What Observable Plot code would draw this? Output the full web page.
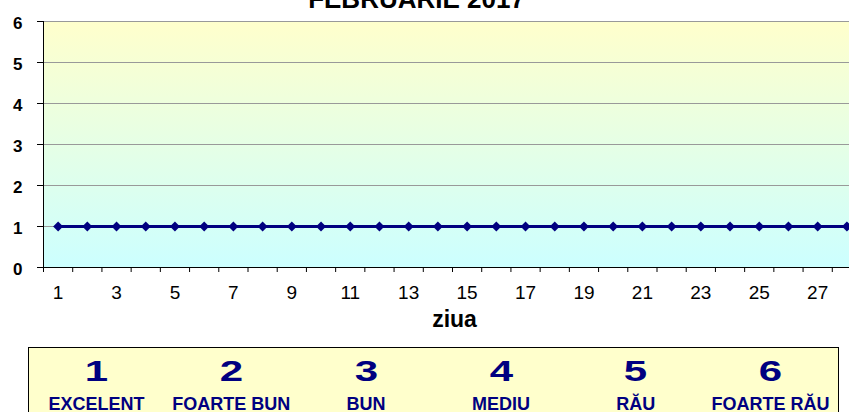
<!DOCTYPE html>
<html><head><meta charset="utf-8">
<script src="https://cdn.jsdelivr.net/npm/d3@7"></script>
<script src="https://cdn.jsdelivr.net/npm/@observablehq/plot@0.6"></script>
<style>
body{margin:0;background:#fff;overflow:hidden;font-family:"Liberation Sans",Arial,sans-serif;position:relative;width:849px;height:412px}
#chart svg{display:block;overflow:visible}
#legend{position:absolute;left:28px;top:347px;width:811px;height:80px;background:#FFFFCC;border:1px solid #000;box-sizing:border-box;display:grid;grid-template-columns:repeat(6,1fr);}
.item{text-align:center;color:#000080;font-weight:bold}
.num{font-size:30px;line-height:30px;margin-top:8px}
.num span{display:inline-block;transform:scaleX(1.4)}
.lab{font-size:18px;line-height:18px;margin-top:9px;white-space:nowrap}
</style></head>
<body><div id="chart"></div><div id="legend"></div>
<script>
const title = "FEBRUARIE 2017";
const xLabel = "ziua";
const days = [1,2,3,4,5,6,7,8,9,10,11,12,13,14,15,16,17,18,19,20,21,22,23,24,25,26,27,28];
const values = [1,1,1,1,1,1,1,1,1,1,1,1,1,1,1,1,1,1,1,1,1,1,1,1,1,1,1,1];
const yTicks = [0,1,2,3,4,5,6];
const xLabelTicks = [1,3,5,7,9,11,13,15,17,19,21,23,25,27];
const levels = [1,2,3,4,5,6];
const levelLabels = ["EXCELENT","FOARTE BUN","BUN","MEDIU","RĂU","FOARTE RĂU"];

const data = days.map((d,i)=>({day:d, v:values[i]}));
const boundaries = [0, ...days].map(d => d + 0.5);
const gridLines = yTicks.filter(t => t > 0);

const defs = () => {
  const d = d3.create("svg:defs");
  const g = d.append("linearGradient").attr("id","bg").attr("x1",0).attr("y1",0).attr("x2",0).attr("y2",1);
  g.append("stop").attr("offset","0%").attr("stop-color","#FFFFCC");
  g.append("stop").attr("offset","100%").attr("stop-color","#CCFFFF");
  return d.node();
};

const chart = Plot.plot({
  width: 849,
  height: 340,
  marginTop: 21,
  marginBottom: 73,
  marginLeft: 43,
  marginRight: 0,
  style: {fontFamily: '"Liberation Sans", Arial, sans-serif', color: "#000", background: "transparent", overflow: "visible"},
  x: {domain: [0.5, days.length + 0.5], range: [43, 861], label: null},
  y: {domain: [0, 6], label: null},
  marks: [
    defs,
    Plot.frame({fill: "url(#bg)", stroke: "none"}),
    Plot.ruleY(gridLines, {stroke: "#999", strokeWidth: 1}),
    Plot.ruleY([0], {stroke: "#000"}),
    Plot.ruleX([0.5], {y1: 0, y2: 6, stroke: "#000"}),
    Plot.axisY({ticks: yTicks, tickSize: 6, tickFormat: () => "", label: null}),
    Plot.axisX({ticks: boundaries, tickSize: 5, tickFormat: () => "", label: null}),
    Plot.text(yTicks, {ariaLabel: "ylab", y: d => d, frameAnchor: "left", textAnchor: "end", lineAnchor: "middle", dx: -21, dy: 2, fontWeight: "bold", fontSize: 17, fill: "#000"}),
    Plot.text(xLabelTicks, {ariaLabel: "xlab", x: d => d, frameAnchor: "bottom", lineAnchor: "top", dy: 18, fontSize: 19, fill: "#000"}),
    Plot.line(data, {x: "day", y: "v", stroke: "#000080", strokeWidth: 3}),
    Plot.dot(data, {x: "day", y: "v", symbol: "diamond2", r: 4.5, fill: "#000080", stroke: "none"}),
    Plot.text([title], {frameAnchor: "top", lineAnchor: "middle", dy: -22, dx: -30, fontWeight: "bold", fontSize: 26, fill: "#000"}),
    Plot.text([xLabel], {frameAnchor: "bottom", lineAnchor: "middle", dy: 52.5, dx: 8, fontWeight: "bold", fontSize: 23, fill: "#000"})
  ]
});
document.getElementById("chart").appendChild(chart);

// horizontal stretch of the tick labels, as in the reference rendering
const stretch = {ylab: 1.4, xlab: 1.45};
chart.querySelectorAll("text").forEach(t => {
  const g = t.closest("g[aria-label]");
  const name = g ? g.getAttribute("aria-label") : "";
  const k = stretch[name];
  if (!k) return;
  let tr = t.getAttribute("transform") || "";
  const x = t.getAttribute("x"), y = t.getAttribute("y");
  if (x != null || y != null) {
    tr += ` translate(${+x || 0},${+y || 0})`;
    t.removeAttribute("x"); t.removeAttribute("y");
  }
  t.setAttribute("transform", tr + ` scale(${k},1)`);
});

const legend = d3.select("#legend");
levels.forEach((l, i) => {
  const it = legend.append("div").attr("class", "item");
  it.append("div").attr("class", "num").append("span").text(l);
  it.append("div").attr("class", "lab").text(levelLabels[i]);
});
</script>
</body></html>
